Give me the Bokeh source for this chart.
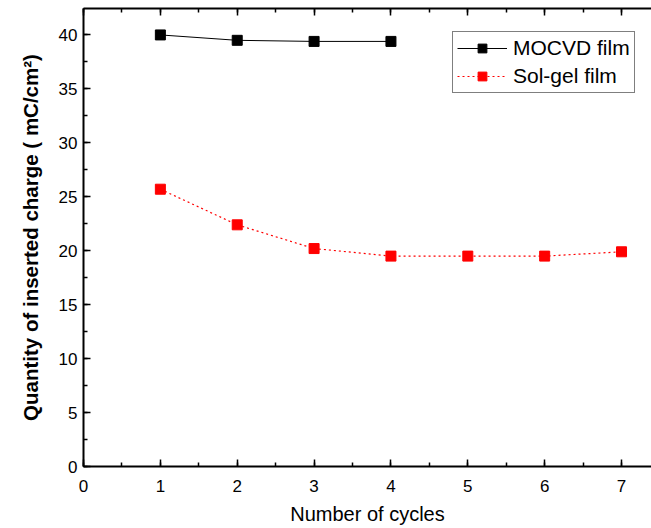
from bokeh.plotting import figure
from bokeh.models import (LinearAxis, SingleIntervalTicker, Range1d, Legend,
                          LegendItem)
from bokeh.embed import file_html
from bokeh.resources import INLINE

# Inserted charge per cycle for the two films
mocvd_cycles = [1, 2, 3, 4]
mocvd_charge = [40.0, 39.5, 39.4, 39.4]

solgel_cycles = [1, 2, 3, 4, 5, 6, 7]
solgel_charge = [25.7, 22.4, 20.2, 19.5, 19.5, 19.5, 19.9]

FONT = "Liberation Sans"

p = figure(width=651, height=528, output_backend="svg", toolbar_location=None,
           x_range=Range1d(0, 7.39), y_range=Range1d(0, 42.45),
           min_border_left=83, min_border_right=0, min_border_top=8,
           min_border_bottom=62)
p.outline_line_color = None
p.xgrid.visible = False
p.ygrid.visible = False
p.background_fill_color = "white"
p.border_fill_color = "white"

def style_axis(ax):
    ax.axis_line_width = 2
    ax.axis_line_color = "black"
    ax.major_tick_in = 7
    ax.major_tick_out = 0
    ax.minor_tick_in = 4
    ax.minor_tick_out = 0
    ax.major_tick_line_width = 1.5
    ax.minor_tick_line_width = 1.5
    ax.major_tick_line_color = "black"
    ax.minor_tick_line_color = "black"
    ax.major_label_text_font = FONT
    ax.major_label_text_font_size = "17px"
    ax.major_label_text_color = "black"
    ax.axis_label_text_font = FONT
    ax.axis_label_text_color = "black"

xticker = SingleIntervalTicker(interval=1, num_minor_ticks=2)
yticker = SingleIntervalTicker(interval=5, num_minor_ticks=2)

xa = p.xaxis[0]
xa.ticker = xticker
style_axis(xa)
xa.major_label_standoff = 13
xa.axis_label = "Number of cycles"
xa.axis_label_text_font_size = "20px"
xa.axis_label_text_font_style = "normal"
xa.axis_label_standoff = 8

ya = p.yaxis[0]
ya.ticker = yticker
style_axis(ya)
ya.major_label_standoff = 6
ya.axis_label = "Quantity of inserted charge ( mC/cm\u00b2)"
ya.axis_label_text_font_size = "20.5px"
ya.axis_label_text_font_style = "bold"
ya.axis_label_standoff = 14

top = LinearAxis(ticker=xticker)
style_axis(top)
top.major_label_text_font_size = "1px"
top.major_label_text_alpha = 0
top.major_label_standoff = 0
p.add_layout(top, "above")

l1 = p.line(mocvd_cycles, mocvd_charge, line_color="black", line_width=1)
s1 = p.scatter(mocvd_cycles, mocvd_charge, marker="square", size=10,
               fill_color="black", line_color="black")

l2 = p.line(solgel_cycles, solgel_charge, line_color="red", line_width=1.2,
            line_dash="2 3")
s2 = p.scatter(solgel_cycles, solgel_charge, marker="square", size=10,
               fill_color="red", line_color="red")

legend = Legend(items=[LegendItem(label="MOCVD film", renderers=[l1, s1]),
                       LegendItem(label="Sol-gel film", renderers=[l2, s2])],
                location=(369, 373))
legend.border_line_color = "black"
legend.border_line_width = 1
legend.label_text_font = FONT
legend.label_text_font_size = "21px"
legend.label_text_color = "black"
legend.glyph_width = 50
legend.glyph_height = 22
legend.label_standoff = 6
legend.spacing = 4
legend.padding = 4
legend.margin = 0
legend.background_fill_alpha = 1
p.add_layout(legend)

open("out.html", "w").write(file_html(p, INLINE))
